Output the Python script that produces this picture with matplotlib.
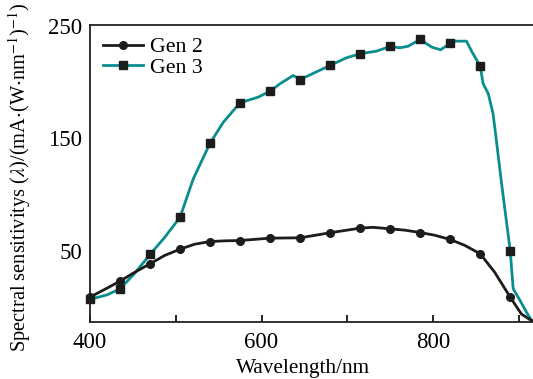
import matplotlib.pyplot as plt
import numpy as np

plt.rcParams['font.family'] = ['Liberation Serif', 'DejaVu Serif']
plt.rcParams['mathtext.fontset'] = 'stix'

# marker positions (nm), every 35 nm
marker_nm = [400, 435, 470, 505, 540, 575, 610, 645, 680, 715, 750, 785, 820, 855, 890]

# Gen 2 curve, spectral sensitivity in mA/W
gen2_nm = [400, 420, 435, 452, 470, 487, 505, 522, 540, 557, 575, 610, 645, 680,
           715, 730, 750, 767, 785, 802, 820, 837, 855, 872, 890, 903, 912, 917]
gen2_val = [9, 17, 23.2, 31, 38.6, 46, 51.6, 56, 58.4, 59, 59.3, 61.4, 61.7, 66.2,
            70.3, 71, 69.7, 68.5, 66.4, 64, 60.2, 55, 47.5, 31, 9, -6, -10.5, -12.5]

# Gen 3 curve
gen3_nm = [400, 420, 435, 452, 470, 487, 505, 520.5, 540, 555.5, 575, 596, 610, 621.5,
           637, 645, 680, 699, 715, 734, 750, 761.5, 771, 785, 798.5, 809, 820, 825.5,
           839, 845, 855, 858.5, 864.5, 870, 872, 880, 890, 893.5, 901.5, 910, 915, 917]
gen3_val = [7, 11, 16.4, 30, 46.9, 62, 80, 114.2, 145.8, 164.5, 181.7, 186.7, 192, 198.6,
            206, 202.4, 214.9, 221.7, 225.3, 227.6, 231.8, 230.6, 232, 238, 231.2, 228.8,
            234.7, 236.5, 236.5, 227.6, 214.3, 198.6, 189.7, 172, 160, 109.7, 50.4, 16.4,
            6, -5.8, -11.8, -13]

teal = '#0a8d8f'
dark = '#1c1c1c'

fig = plt.figure(figsize=(5.33, 3.79), dpi=100)
ax = fig.add_axes([90 / 533, 1 - 322.3 / 379, 1 - 90 / 533, (322.3 - 24.5) / 379])

idx2 = [gen2_nm.index(x) for x in marker_nm]
idx3 = [gen3_nm.index(x) for x in marker_nm]

ax.plot(gen2_nm, gen2_val, color=dark, lw=2.0, marker='o', ms=5.5,
        markevery=idx2, label='Gen 2', zorder=3, clip_on=False)
ax.plot(gen3_nm, gen3_val, color=teal, lw=2.0, marker='s', ms=5.5,
        mfc=dark, mec=dark, markevery=idx3, label='Gen 3', zorder=2, clip_on=False)

ax.set_xlim(400, 916.6)
ax.set_ylim(-13.4, 251.3)

ax.set_xticks([400, 500, 600, 700, 800, 900])
ax.set_xticklabels(['400', '', '600', '', '800', ''])
ax.set_yticks([50, 150, 250])
ax.tick_params(axis='x', direction='in', length=5, width=1.2, labelsize=16.5, pad=7)
ax.tick_params(axis='y', length=0, labelsize=16.5, pad=5.5)

for s in ['left', 'top', 'bottom']:
    ax.spines[s].set_linewidth(1.3)
    ax.spines[s].set_color('#222222')
ax.spines['right'].set_visible(False)

ax.set_xlabel('Wavelength/nm', fontsize=15.3)
ax.xaxis.set_label_coords(0.481, -0.123)
ax.set_ylabel(r'Spectral sensitivitys ($\lambda$)/(mA$\cdot$(W$\cdot$nm$^{-1}$)$^{-1}$)',
              fontsize=14.7)
ax.yaxis.set_label_coords(-0.129, 0.488)

ax.legend(loc='upper left', frameon=False, fontsize=15.7, handlelength=1.83,
          handletextpad=0.32, labelspacing=0.0, borderaxespad=0, borderpad=0,
          bbox_to_anchor=(0.029, 0.958))

fig.savefig('out.png', dpi=100)
